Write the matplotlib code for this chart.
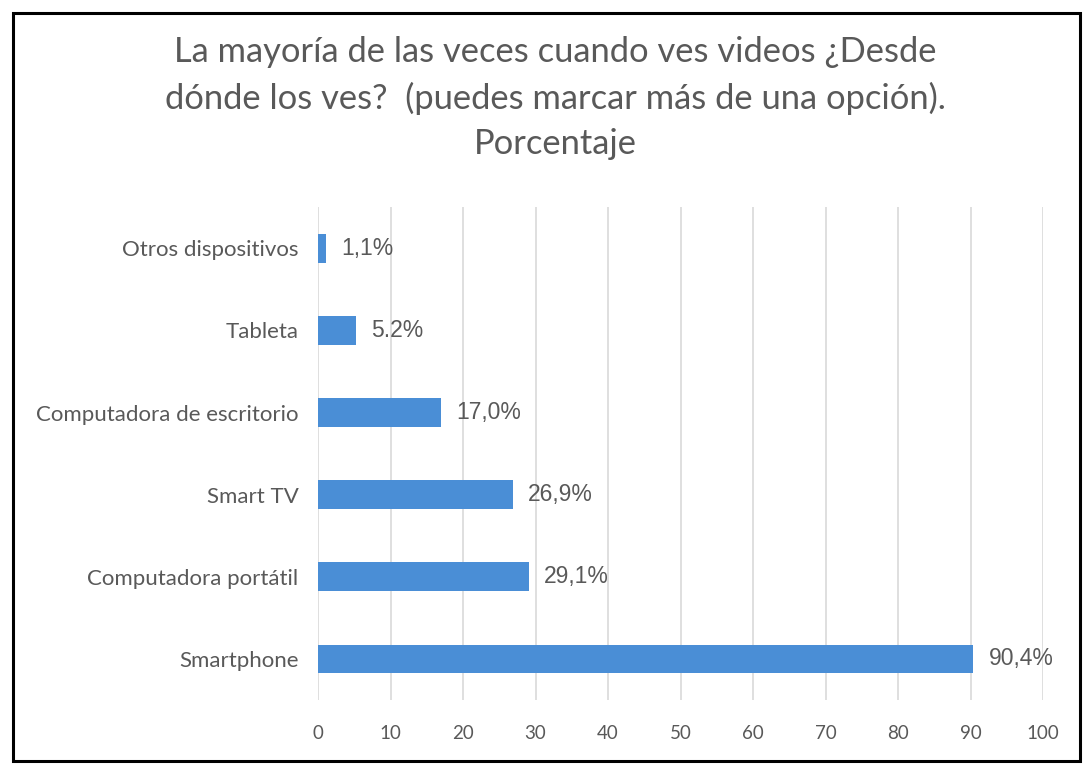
import numpy as np
import matplotlib.pyplot as plt
from matplotlib.patches import Rectangle

categories = ['Smartphone', 'Computadora portátil', 'Smart TV',
              'Computadora de escritorio', 'Tableta', 'Otros dispositivos']
values = [90.4, 29.1, 26.9, 17.0, 5.2, 1.1]
value_labels = ['90,4%', '29,1%', '26,9%', '17,0%', '5.2%', '1,1%']
xticks = [0, 10, 20, 30, 40, 50, 60, 70, 80, 90, 100]

plt.rcParams['font.family'] = ['Lato', 'DejaVu Sans']
text_color = '#595959'

fig = plt.figure(figsize=(10.84, 7.64), dpi=100)
ax = fig.add_axes([0.2934, 0.0838, 0.6688, 0.645])

y = np.arange(len(categories))
ax.barh(y, values, height=0.35, color='#4a8ed6', zorder=3)

for yi, v, lab in zip(y, values, value_labels):
    ax.annotate(lab, (v, yi), xytext=(11, 0), textcoords='offset points',
                va='center', ha='left', fontsize=16.5, color=text_color,
                family=['Liberation Sans', 'DejaVu Sans'])

ax.set_xlim(0, 100)
ax.set_ylim(-0.5, 5.5)
ax.set_xticks(xticks)
ax.set_yticks(y)
ax.set_yticklabels(categories)
ax.tick_params(axis='x', length=0, pad=18, labelsize=13.5, labelcolor=text_color)
ax.tick_params(axis='y', length=0, pad=14, labelsize=16, labelcolor=text_color)
ax.grid(axis='x', color='#d9d9d9', lw=1.2, zorder=0)
for s in ax.spines.values():
    s.set_visible(False)

fig.text(0.512, 0.872,
         'La mayoría de las veces cuando ves videos ¿Desde\n'
         'dónde los ves?  (puedes marcar más de una opción).\n'
         'Porcentaje',
         ha='center', va='center', fontsize=24.8, color=text_color, linespacing=1.5)

fig.patches.append(Rectangle((0.012, 0.004), 0.984, 0.979, transform=fig.transFigure,
                             fill=False, edgecolor='black', lw=2.2))

fig.savefig('out.png', dpi=100)
